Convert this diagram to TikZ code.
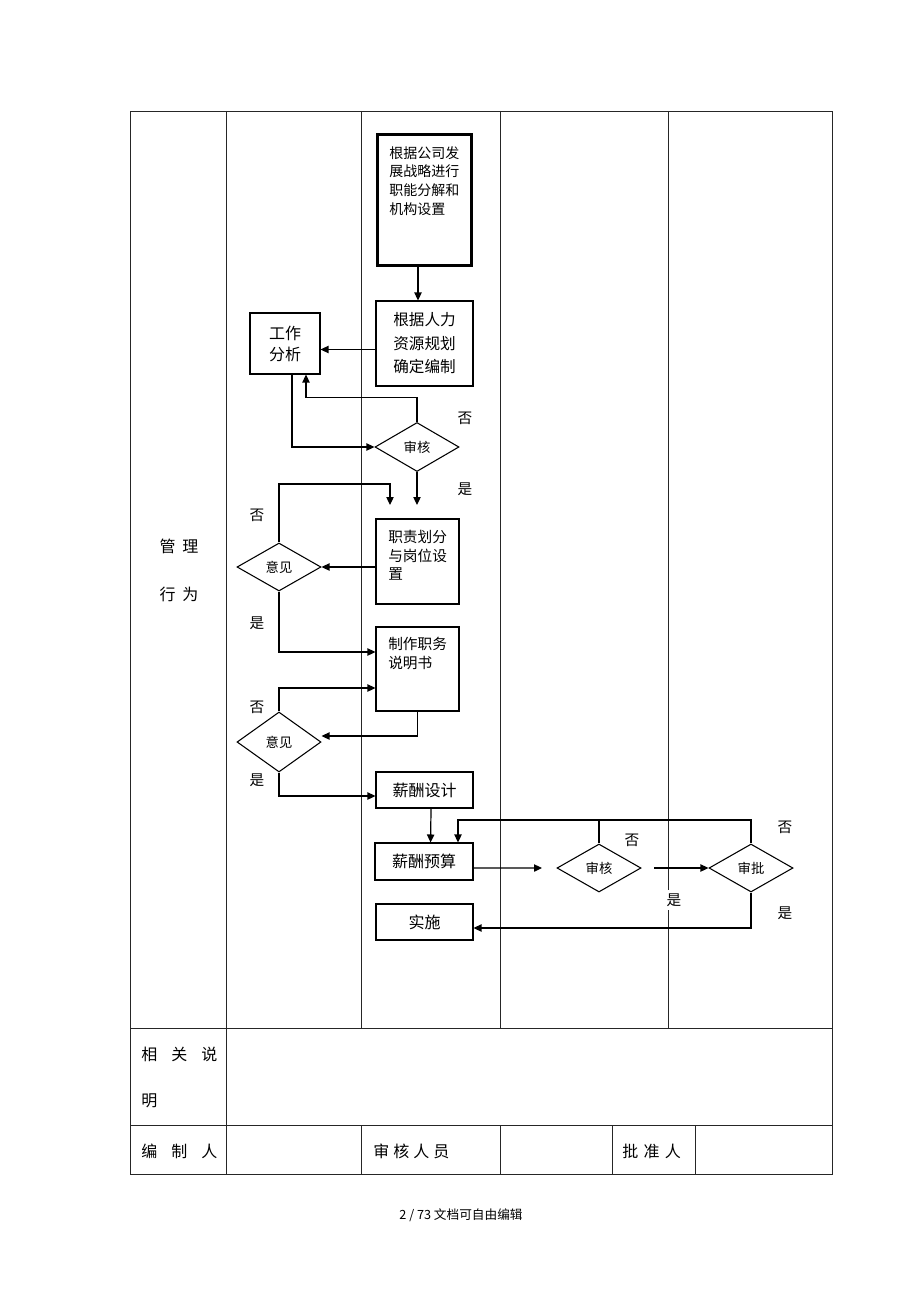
\documentclass[tikz,border=0pt]{standalone}
\usepackage{fontspec}
\setmainfont{Noto Sans CJK SC}
\usetikzlibrary{shapes.geometric,arrows.meta,calc}
\begin{document}
\begin{tikzpicture}[x=0.75pt,y=-0.75pt]
\tikzset{
 box/.style={draw, line width=0.8pt, inner sep=0pt, align=center},
 dia/.style={draw, diamond, line width=0.8pt, inner sep=0pt, font=\fontsize{10}{12}\selectfont},
 arr/.style={line width=0.9pt, -{Triangle[length=6pt,width=5.5pt]}},
 ln/.style={line width=0.9pt},
 tl/.style={line width=0.7pt, draw=black!85},
 lab/.style={font=\fontsize{11}{13}\selectfont, inner sep=1pt},
 lane/.style={font=\fontsize{12}{14}\selectfont, inner sep=0pt},
 boxtxt/.style={anchor=north west, align=left, inner sep=0pt},
}
\useasboundingbox (0,0) rectangle (920,1302);
% table
\draw[tl] (130,111) rectangle (832,1174);
\draw[tl] (130,1028) -- (832,1028);
\draw[tl] (130,1125) -- (832,1125);
\foreach \xx in {226,361,500,668} \draw[tl] (\xx,111) -- (\xx,1028);
\draw[tl] (226,1028) -- (226,1125);
\foreach \xx in {226,361,500,612,695} \draw[tl] (\xx,1125) -- (\xx,1174);
% lane labels
\node[lane] (l1) at (179,546) {管\hspace{5pt}理};
\node[lane] (l2) at (179,594) {行\hspace{5pt}为};
\node[lane, anchor=west] (l3) at (141,1054) {相\hspace{10.5pt}关\hspace{10.5pt}说};
\node[lane, anchor=west] (l4) at (141,1101) {明};
\node[lane, anchor=west] (l5) at (141,1151) {编\hspace{10.5pt}制\hspace{10.5pt}人};
\node[lane, anchor=west] (l6) at (373,1151) {审\hspace{3pt}核\hspace{3pt}人\hspace{3pt}员};
\node[lane, anchor=west] (l7) at (622,1151) {批\hspace{4pt}准\hspace{4pt}人};
% nodes
\node[box, line width=2.3pt, minimum width=70.5pt, minimum height=98.25pt] (b1) at (424.5,200) {};
\node[boxtxt, font=\fontsize{10.5}{14}\selectfont] (b1t) at (389,146) {根据公司发\\展战略进行\\职能分解和\\机构设置};
\node[box, minimum width=72.75pt, minimum height=63.75pt, font=\fontsize{11.7}{17.6}\selectfont] (b3) at (424.5,343.5) {根据人力\\资源规划\\确定编制};
\node[box, minimum width=52.5pt, minimum height=45.75pt, font=\fontsize{12}{15.75}\selectfont] (gz) at (285,343.5) {工作\\分析};
\node[dia, minimum width=63pt, minimum height=36.75pt] (sh1) at (417,447) {审核};
\node[box, minimum width=62.25pt, minimum height=63.75pt] (zz) at (417.5,561.5) {};
\node[boxtxt, font=\fontsize{11}{13.9}\selectfont] (zzt) at (388,530) {职责划分\\与岗位设\\置};
\node[dia, minimum width=63pt, minimum height=36pt] (yj1) at (279,567) {意见};
\node[box, minimum width=62.25pt, minimum height=63pt] (zzsm) at (417.5,669) {};
\node[boxtxt, font=\fontsize{11}{14}\selectfont] (zzsmt) at (388,637) {制作职务\\说明书};
\node[dia, minimum width=63pt, minimum height=45pt] (yj2) at (279,742) {意见};
\node[box, minimum width=72.75pt, minimum height=27pt, font=\fontsize{12}{14}\selectfont] (xcsj) at (424.5,790) {薪酬设计};
\node[box, minimum width=73.5pt, minimum height=27.75pt, font=\fontsize{12}{14}\selectfont] (xcys) at (424,861.5) {薪酬预算};
\node[box, minimum width=72.75pt, minimum height=27pt, font=\fontsize{12}{14}\selectfont] (ss) at (424.5,922) {实施};
\node[dia, minimum width=63pt, minimum height=36pt] (sh2) at (599,868) {审核};
\node[dia, minimum width=63pt, minimum height=36pt] (sp) at (751,868) {审批};
% coordinates
\coordinate (p1) at ($(b1.south)+(-6.5,0)$);
\coordinate (k0) at (417,505);
\coordinate (k1top) at (390,484);
\coordinate (k1) at (390,505);
\coordinate (k3) at (542,868);
\coordinate (k4) at (654,868);
\coordinate (k5) at (458,820);
% connectors
\draw[arr] (p1) -- (p1 |- b3.north);
\draw[arr] ([yshift=-4.5pt]b3.west) -- ([yshift=-4.5pt]gz.east);
\draw[arr] (sh1.north) -- ++(0,-24.5) -| ([xshift=15.75pt]gz.south);
\draw[arr] ([xshift=5.25pt]gz.south) |- (sh1.west);
\draw[arr] (sh1.south) -- (k0);
\draw[arr] (yj1.north) |- (k1top) -- (k1);
\draw[arr] (yj1.east -| zz.west) -- (yj1.east);
\draw[arr] (yj1.south) |- ([yshift=12.75pt]zzsm.west);
\draw[arr] (yj2.north) |- ([yshift=-14.25pt]zzsm.west);
\draw[arr] (zzsm.south) |- ([yshift=4.5pt]yj2.east);
\draw[arr] (yj2.south) |- ([yshift=-4.5pt]xcsj.west);
\draw[arr] ([xshift=4.9pt]xcsj.south) -- ([xshift=4.9pt]xcys.north);
\draw[arr] ([yshift=-4.9pt]xcys.east) -- (k3);
\draw[arr] (k4) -- (sp.west);
\draw[ln] (sh2.north) -- (sh2.north |- k5);
\draw[arr] (sp.north) |- (k5) -- (k5 |- xcys.north);
\draw[arr] (sp.south) |- ([yshift=-4.5pt]ss.east);
% labels
\node[lab] (n1) at (465,418) {否};
\node[lab] (y1) at (465,489) {是};
\node[lab] (n2) at (257,515) {否};
\node[lab] (y2) at (257,623) {是};
\node[lab] (n3) at (257,707) {否};
\node[lab] (y3) at (257,780) {是};
\node[lab] (n4) at (632,840) {否};
\node[lab] (n5) at (785,827) {否};
\node[lab, fill=white, inner sep=3pt] (y4) at (674,900) {是};
\node[lab] (y5) at (785,913) {是};
% footer
\node[font=\fontsize{9.5}{11}\selectfont, inner sep=0pt] (ft) at (461,1215) {2 / 73 文档可自由编辑};
\end{tikzpicture}
\end{document}
